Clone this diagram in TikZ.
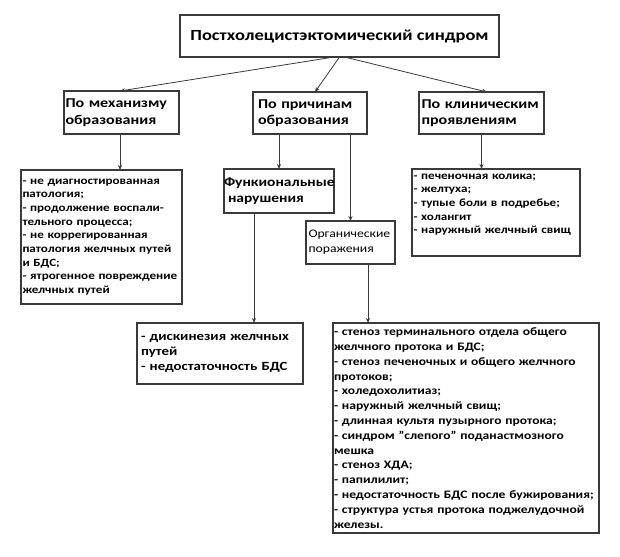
\documentclass[tikz,border=0pt]{standalone}
\usepackage{fontspec}
\setmainfont{Carlito}[FakeStretch=1.19]
\usetikzlibrary{arrows.meta}
\definecolor{linec}{HTML}{3A3A3A}
\begin{document}
\begin{tikzpicture}[x=1pt,y=-1pt,
  box/.style={draw=linec, line width=1.1pt, rectangle, inner sep=0pt, outer sep=0pt},
  lbox/.style={box, align=left, inner xsep=1.5pt},
  conn/.style={draw=linec, line width=0.8pt, -{Stealth[length=5pt,width=4pt]}},
  hd/.style={font=\bfseries\fontsize{13.5}{16.5}\selectfont},
  lst/.style={font=\bfseries\fontsize{11}{13.7}\selectfont}
]
\useasboundingbox (0,0) rectangle (620,556);
\fill[white] (0,0) rectangle (620,556);

\node[box, minimum width=319pt, minimum height=42pt, font=\bfseries\fontsize{15.5}{18}\selectfont] (top) at (339.5,36) {Постхолецистэктомический синдром};

\node[lbox, hd, minimum width=115pt, minimum height=43pt, text width=112pt] (mech) at (121.5,112.5) {По механизму\\образования};
\node[lbox, hd, minimum width=114pt, minimum height=42pt, text width=104pt, inner xsep=5pt] (prich) at (310,113) {По причинам\\образования};
\node[lbox, hd, minimum width=125pt, minimum height=42pt, text width=120pt, inner xsep=2.5pt] (klin) at (481.5,113) {По клиническим\\проявлениям};

\node[lbox, lst, minimum width=161pt, minimum height=134pt, text width=158pt] (llist) at (101.5,237) {- не диагностированная\\патология;\\- продолжение воспали-\\тельного процесса;\\- не коррегированная\\патология желчных путей\\и БДС;\\- ятрогенное повреждение\\желчных путей};

\node[lbox, font=\bfseries\fontsize{13}{16}\selectfont, minimum width=106pt, minimum height=44pt, text width=110pt, inner xsep=0pt] (funk) at (279,191) {Функиональные\\\hspace*{4pt}нарушения};

\node[lbox, font=\fontsize{11.5}{15}\selectfont, minimum width=89pt, minimum height=43pt, text width=84pt, inner xsep=2.5pt] (org) at (350.5,242.5) {Органические\\поражения};

\node[lbox, lst, minimum width=168pt, minimum height=87pt, text width=165pt, anchor=north] (rlist) at (496,169) {\rule{0pt}{10pt}- печеночная колика;\\- желтуха;\\- тупые боли в подребье;\\- холангит\\- наружный желчный свищ\rule[-22pt]{0pt}{0pt}};

\node[lbox, font=\bfseries\fontsize{12.5}{15}\selectfont, minimum width=166pt, minimum height=61pt, text width=158pt, inner xsep=4pt] (dysk) at (220,353.5) {- дискинезия желчных\\путей\\- недостаточность БДС};

\node[lbox, font=\bfseries\fontsize{11.4}{14.8}\selectfont, minimum width=266pt, minimum height=210pt, text width=264pt, inner xsep=1pt] (big) at (466,428) {- стеноз терминального отдела общего\\желчного протока и БДС;\\- стеноз печеночных и общего желчного\\протоков;\\- холедохолитиаз;\\- наружный желчный свищ;\\- длинная культя пузырного протока;\\- синдром "слепого" поданастмозного\\мешка\\- стеноз ХДА;\\- папилилит;\\- недостаточность БДС после бужирования;\\- структура устья протока поджелудочной\\железы.};

% connectors
\draw[conn] ([xshift=-5.5pt]top.south) -- ([xshift=-1.5pt]mech.north);
\draw[conn] (top.south) -- ([xshift=5pt]prich.north);
\draw[conn] ([xshift=5pt]top.south) -- ([xshift=5.5pt]klin.north);

\draw[conn] ([xshift=-1.5pt]mech.south) -- ([xshift=-1.5pt]mech.south |- llist.north);
\draw[conn] (funk.north |- prich.south) -- (funk.north);
\draw[conn] (org.north |- prich.south) -- (org.north);
\draw[conn] (klin.south) -- (klin.south |- rlist.north);
\draw[conn] ([xshift=-25pt]funk.south) -- ([xshift=-25pt]funk.south |- dysk.north);
\draw[conn] ([xshift=17.5pt]org.south) -- ([xshift=17.5pt]org.south |- big.north);
\end{tikzpicture}
\end{document}
